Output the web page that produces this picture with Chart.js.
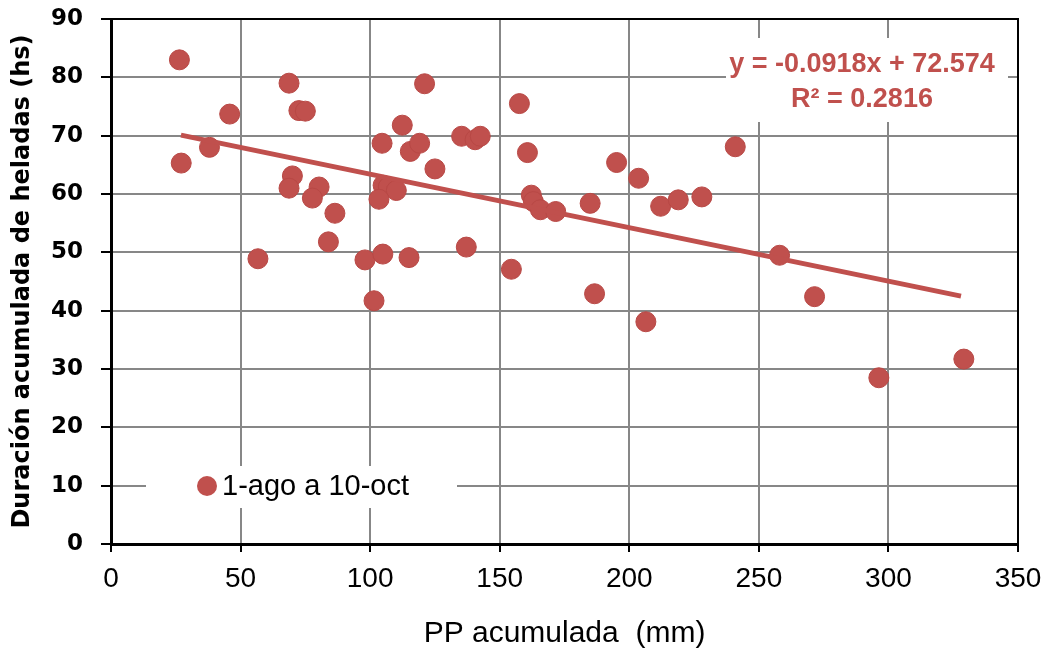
<!DOCTYPE html>
<html lang="es">
<head>
  <meta charset="UTF-8" />
  <title>PP acumulada vs heladas</title>
  <script src="https://cdn.jsdelivr.net/npm/chart.js"></script>
  <style>
    html, body { margin: 0; padding: 0; background: #fff; }
    #wrap { width: 1050px; height: 652px; position: relative; }
  </style>
</head>
<body>
  <div id="wrap"><canvas id="chart"></canvas></div>

  <script>
    // PP acumulada (mm), 1-ago a 10-oct
    const ppX = [26.4, 27.1, 38.0, 45.8, 56.7, 68.7, 72.5, 75.0, 70.0, 68.7,
                 80.3, 77.7, 86.4, 83.9, 98.0, 101.5, 104.9, 115.0, 104.6, 112.4,
                 121.0, 115.5, 119.1, 125.0, 135.3, 140.5, 142.5, 137.1, 105.0, 107.0,
                 110.1, 103.4, 157.6, 160.7, 162.2, 163.0, 165.7, 171.6, 184.9, 195.1,
                 203.6, 212.1, 218.9, 228.0, 240.9, 154.5, 186.6, 206.4, 258.0, 271.5,
                 296.3, 329.1];
    // Duración acumulada de heladas (hs)
    const hsY = [83.0, 65.3, 68.0, 73.7, 48.9, 79.0, 74.3, 74.2, 63.1, 61.0,
                 61.2, 59.3, 56.7, 51.8, 48.7, 41.7, 49.7, 49.1, 68.7, 71.8,
                 78.9, 67.3, 68.7, 64.3, 69.9, 69.3, 69.9, 50.9, 61.5, 61.2,
                 60.6, 59.1, 75.5, 67.1, 59.8, 58.7, 57.3, 57.0, 58.4, 65.4,
                 62.7, 57.9, 59.0, 59.5, 68.1, 47.1, 42.9, 38.1, 49.5, 42.4,
                 28.5, 31.7];

    const trendX = [27, 328];
    const trendY = [70.1, 42.5];

    const seriesName = "1-ago a 10-oct";
    const eqLines = ["y = -0.0918x + 72.574", "R² = 0.2816"];
    const xTicks = [0, 50, 100, 150, 200, 250, 300, 350];
    const yTicks = [0, 10, 20, 30, 40, 50, 60, 70, 80, 90];

    const red = "#c0504d";
    const gridGray = "#878787";

    // white boxes for legend and trendline label, plus black plot frame
    const overlays = {
      id: "overlays",
      beforeDatasetsDraw(chart) {
        const { ctx, chartArea: a } = chart;
        ctx.save();
        ctx.fillStyle = "#fff";
        // equation label box
        ctx.fillRect(726, 38, 282, 84);
        // legend box
        ctx.fillRect(146, 466, 311, 42);

        ctx.fillStyle = red;
        ctx.font = "bold 27px 'Liberation Sans', Arial, sans-serif";
        ctx.textAlign = "center";
        ctx.textBaseline = "middle";
        ctx.fillText(eqLines[0], 862, 65);
        ctx.fillText(eqLines[1], 862, 100);

        // legend marker and text
        ctx.beginPath();
        ctx.arc(207, 486, 10, 0, Math.PI * 2);
        ctx.fillStyle = red;
        ctx.fill();
        ctx.fillStyle = "#000";
        ctx.font = "29px 'Liberation Sans', Arial, sans-serif";
        ctx.textAlign = "left";
        ctx.fillText(seriesName, 222, 487);

        // frame on top and right
        ctx.strokeStyle = "#000";
        ctx.lineWidth = 2;
        ctx.strokeRect(a.left, a.top, a.right - a.left, a.bottom - a.top);
        ctx.restore();
      }
    };

    const ctx = document.getElementById("chart").getContext("2d");
    new Chart(ctx, {
      type: "scatter",
      data: {
        datasets: [
          {
            label: seriesName,
            data: ppX.map((x, i) => ({ x: x, y: hsY[i] })),
            backgroundColor: red,
            borderColor: "#b84845",
            borderWidth: 1,
            pointRadius: 10,
            order: 2
          },
          {
            type: "line",
            label: "Lineal",
            data: trendX.map((x, i) => ({ x: x, y: trendY[i] })),
            borderColor: red,
            borderWidth: 5,
            pointRadius: 0,
            fill: false,
            order: 1
          }
        ]
      },
      options: {
        responsive: true,
        maintainAspectRatio: false,
        animation: false,
        layout: { padding: { left: 0, right: 32, top: 19, bottom: 0 } },
        plugins: {
          legend: { display: false },
          tooltip: { enabled: false }
        },
        scales: {
          x: {
            type: "linear",
            min: 0,
            max: 350,
            afterBuildTicks: (s) => { s.ticks = xTicks.map(v => ({ value: v })); },
            afterFit: (s) => { s.height = 108; s.paddingLeft = 0; s.paddingRight = 0; },
            grid: { color: gridGray, lineWidth: 2, tickColor: "#000", tickLength: 8 },
            border: { color: "#000", width: 3 },
            ticks: {
              color: "#000",
              padding: 10,
              font: { family: "'Liberation Sans Narrow', 'Liberation Sans', sans-serif", size: 28 }
            },
            title: {
              display: true,
              text: "PP acumulada  (mm)",
              color: "#000",
              padding: { top: 6, bottom: 0 },
              font: { family: "'Liberation Sans Narrow', 'Liberation Sans', sans-serif", size: 30 }
            }
          },
          y: {
            min: 0,
            max: 90,
            afterBuildTicks: (s) => { s.ticks = yTicks.map(v => ({ value: v })); },
            afterFit: (s) => { s.width = 111; s.paddingTop = 0; s.paddingBottom = 0; },
            grid: { color: gridGray, lineWidth: 2, tickColor: "#000", tickLength: 10 },
            border: { color: "#000", width: 3 },
            ticks: {
              color: "#000",
              padding: 18,
              font: { family: "'DejaVu Sans', Verdana, sans-serif", size: 23, weight: "bold" }
            },
            title: {
              display: true,
              text: "Duración acumulada de heladas (hs)",
              color: "#000",
              padding: { top: 8, bottom: 0 },
              font: { family: "'DejaVu Sans', Verdana, sans-serif", size: 24, weight: "bold" }
            }
          }
        }
      },
      plugins: [overlays]
    });
  </script>
</body>
</html>
